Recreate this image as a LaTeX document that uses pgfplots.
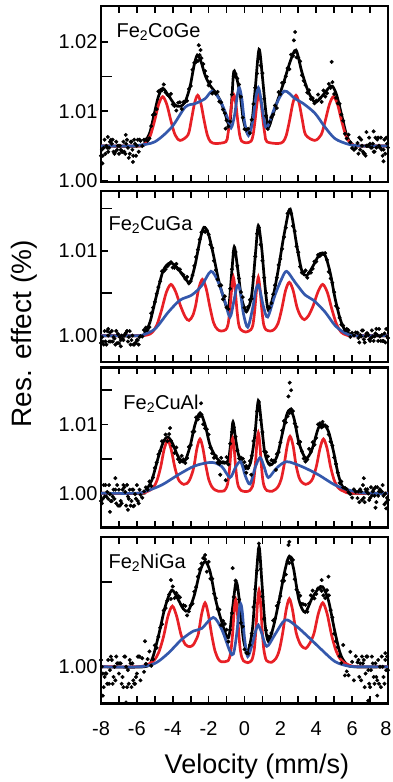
\documentclass[border=0pt]{standalone}
\usepackage{fontspec}
\setmainfont{Liberation Sans}
\usepackage{pgfplots}
\pgfplotsset{compat=1.18}
\definecolor{myred}{RGB}{232,32,38}
\definecolor{myblue}{RGB}{52,88,172}
\begin{document}
\begin{tikzpicture}
\useasboundingbox (0,0) rectangle (392pt,-782pt);
\pgfplotsset{
  panel/.style={
    scale only axis, width=287pt, xmin=-8, xmax=8, anchor=north west,
    xtick={-8,-7,...,8},
    tick align=inside, xtick pos=both, ytick pos=left,
    major tick length=7pt, minor tick length=11pt,
    tick style={line width=1.7pt, black},
    axis line style={line width=2.4pt, black},
    tick label style={font=\fontsize{20}{22}\selectfont},
    xticklabel style={yshift=-15pt},
    xticklabels={},
  },
  dat/.style={only marks, mark=*, mark size=1.8pt, black},
  fitk/.style={black, line width=2.7pt, smooth, tension=0.5, mark=none},
  fitr/.style={myred, line width=2.7pt, smooth, tension=0.5, mark=none},
  fitb/.style={myblue, line width=2.7pt, smooth, tension=0.5, mark=none},
}
% ---------------- Panel 1: Fe2CoGe
\begin{axis}[panel, at={(101pt,-6pt)}, height=175.7pt, ymin=0.99986, ymax=1.02514,
  ytick={1.00,1.01,1.02}, yticklabels={1.00,1.01,1.02}, minor ytick={1.005,1.015}]
\addplot[dat] coordinates {
(-8.00,1.00359) (-7.95,1.00446) (-7.90,1.00359) (-7.85,1.00474) (-7.80,1.00590) (-7.75,1.00388) (-7.70,1.00503) (-7.65,1.00474) (-7.60,1.00417) (-7.55,1.00474) (-7.50,1.00561) (-7.45,1.00590) (-7.40,1.00532) (-7.35,1.00590) (-7.30,1.00417) (-7.25,1.00388) (-7.20,1.00417) (-7.15,1.00561) (-7.10,1.00446) (-7.05,1.00503) (-7.00,1.00388) (-6.95,1.00503) (-6.90,1.00446) (-6.85,1.00417) (-6.80,1.00417) (-6.75,1.00561) (-6.70,1.00417) (-6.65,1.00388) (-6.60,1.00532) (-6.55,1.00590) (-6.50,1.00474) (-6.45,1.00330) (-6.40,1.00388) (-6.35,1.00561) (-6.30,1.00561) (-6.25,1.00446) (-6.20,1.00359) (-6.15,1.00590) (-6.10,1.00532) (-6.05,1.00359) (-6.00,1.00503) (-5.95,1.00590) (-5.90,1.00417) (-5.85,1.00590)
(-7.92,1.0025) (-6.22,1.0027) (-7.62,1.0063) (-6.62,1.0066)
(-5.8,1.00575) (-5.7,1.00499) (-5.6,1.00590) (-5.5,1.00593) (-5.4,1.00577) (-5.3,1.00610) (-5.2,1.00786) (-5.1,1.00946) (-5.0,1.00958) (-4.9,1.01030) (-4.8,1.01285) (-4.7,1.01302) (-4.6,1.01302) (-4.5,1.01385) (-4.4,1.01272) (-4.3,1.01237) (-4.2,1.01218) (-4.1,1.01250) (-4.0,1.01098) (-3.9,1.01075) (-3.8,1.01010) (-3.7,1.01122) (-3.6,1.01128) (-3.5,1.01032) (-3.4,1.01135) (-3.3,1.01137) (-3.2,1.01150) (-3.1,1.01320) (-3.0,1.01363) (-2.9,1.01598) (-2.8,1.01695) (-2.7,1.01708) (-2.6,1.01725) (-2.5,1.01808) (-2.4,1.01765) (-2.3,1.01680) (-2.2,1.01578) (-2.1,1.01495) (-2.0,1.01373) (-1.9,1.01423) (-1.8,1.01255) (-1.7,1.01275) (-1.6,1.01252) (-1.5,1.01278) (-1.4,1.01138) (-1.3,1.01128) (-1.2,1.01025) (-1.1,1.00972) (-1.0,1.00868) (-0.9,1.00782) (-0.8,1.00852) (-0.7,1.01242) (-0.6,1.01495) (-0.5,1.01535) (-0.4,1.01472) (-0.3,1.01385) (-0.2,1.01208) (-0.1,1.00908) (0.0,1.00742) (0.1,1.00732) (0.2,1.00748) (0.3,1.00685) (0.4,1.00878) (0.5,1.01105) (0.6,1.01338) (0.7,1.01542) (0.8,1.01835) (0.9,1.01658) (1.0,1.01548) (1.1,1.01178) (1.2,1.00935) (1.3,1.00745) (1.4,1.00845) (1.5,1.00915) (1.6,1.00952) (1.7,1.01082) (1.8,1.01045) (1.9,1.01275) (2.0,1.01245) (2.1,1.01408) (2.2,1.01417) (2.3,1.01502) (2.4,1.01620) (2.5,1.01605) (2.6,1.01815) (2.7,1.01798) (2.8,1.01853) (2.9,1.01775) (3.0,1.01768) (3.1,1.01718) (3.2,1.01518) (3.3,1.01438) (3.4,1.01375) (3.5,1.01267) (3.6,1.01302) (3.7,1.01178) (3.8,1.01188) (3.9,1.01115) (4.0,1.01153) (4.1,1.01240) (4.2,1.01182) (4.3,1.01135) (4.4,1.01298) (4.5,1.01212) (4.6,1.01258) (4.7,1.01393) (4.8,1.01337) (4.9,1.01418) (5.0,1.01247) (5.1,1.01192) (5.2,1.01112) (5.3,1.01107) (5.4,1.00952) (5.5,1.00863) (5.6,1.00675) (5.7,1.00608) (5.8,1.00663) (5.9,1.00552) (6.0,1.00470) (6.1,1.00445) (6.2,1.00468) (6.3,1.00542)
(-2.55,1.0195) (-2.45,1.0188) (2.82,1.0214) (2.75,1.0202) (4.86,1.0171) (-1.05,1.0075)
(6.35,1.00389) (6.40,1.00620) (6.45,1.00447) (6.50,1.00591) (6.55,1.00504) (6.60,1.00418) (6.65,1.00389) (6.70,1.00389) (6.75,1.00360) (6.80,1.00504) (6.85,1.00504) (6.90,1.00504) (6.95,1.00620) (7.00,1.00533) (7.05,1.00476) (7.10,1.00476) (7.15,1.00533) (7.20,1.00418) (7.25,1.00418) (7.30,1.00620) (7.35,1.00476) (7.40,1.00591) (7.45,1.00620) (7.50,1.00504) (7.55,1.00476) (7.60,1.00620) (7.65,1.00447) (7.70,1.00360) (7.75,1.00447) (7.80,1.00591) (7.85,1.00389) (7.90,1.00620) (7.95,1.00533) (8.00,1.00476)
(7.75,1.0028) (6.8,1.0070) (7.2,1.0071)
};
\addplot[fitk] coordinates {
(-8,1.005) (-5.8,1.005) (-5.55,1.0056) (-5.27,1.0070) (-4.99,1.0101) (-4.80,1.0121) (-4.56,1.0133) (-4.25,1.0123) (-3.87,1.0109) (-3.59,1.0107) (-3.32,1.0113) (-3.04,1.0135) (-2.81,1.0166) (-2.63,1.0181) (-2.42,1.0171) (-2.2,1.0152) (-1.92,1.0137) (-1.64,1.0128) (-1.36,1.0116) (-1.09,1.0097) (-0.84,1.0080) (-0.71,1.0116) (-0.60,1.0157) (-0.43,1.0147) (-0.24,1.0123) (-0.06,1.0087) (0.18,1.0068) (0.40,1.0082) (0.59,1.0130) (0.81,1.0189) (1.0,1.0149) (1.18,1.0101) (1.33,1.0077) (1.55,1.0092) (1.85,1.0116) (2.17,1.0140) (2.54,1.0171) (2.87,1.0188) (3.19,1.0157) (3.56,1.0128) (3.93,1.0113) (4.30,1.0121) (4.68,1.0133) (4.90,1.0136) (5.14,1.0123) (5.42,1.0094) (5.70,1.0065) (5.98,1.0053) (6.35,1.005) (8,1.005)
};
\addplot[fitr] coordinates {
(-8,1.0050) (-6.0,1.0050) (-5.71,1.0051) (-5.48,1.00545) (-5.25,1.0065) (-5.02,1.00855) (-4.79,1.01096) (-4.56,1.0121) (-4.33,1.01096) (-4.10,1.0086) (-3.87,1.0066) (-3.585,1.0058) (-3.15,1.0066) (-2.97,1.00865) (-2.79,1.0111) (-2.61,1.0123) (-2.43,1.0111) (-2.25,1.00865) (-2.07,1.00655) (-1.89,1.0056) (-1.6,1.00535) (-1.04,1.0056) (-0.93,1.0066) (-0.82,1.0087) (-0.71,1.0112) (-0.60,1.0124) (-0.49,1.0112) (-0.38,1.0087) (-0.27,1.0066) (-0.16,1.0057) (0.105,1.00545) (0.37,1.0057) (0.48,1.0066) (0.59,1.0087) (0.70,1.0112) (0.81,1.0124) (0.92,1.0112) (1.03,1.0087) (1.14,1.0066) (1.25,1.0056) (1.85,1.00535) (2.15,1.0056) (2.33,1.00655) (2.51,1.00865) (2.69,1.0111) (2.87,1.0123) (3.05,1.0111) (3.23,1.00865) (3.41,1.0066) (3.915,1.0058) (4.27,1.0066) (4.50,1.0086) (4.73,1.01096) (4.96,1.0121) (5.19,1.01096) (5.42,1.00855) (5.65,1.0065) (5.88,1.00545) (6.11,1.0051) (6.4,1.0050) (8,1.0050)
};
\addplot[fitb] coordinates {
(-8,1.0050) (-6.3,1.0050) (-5.9,1.0051) (-5.0,1.0056) (-4.06,1.0077) (-3.3,1.0106) (-2.75,1.0111) (-2.2,1.0118) (-1.79,1.0129) (-1.37,1.0116) (-1.0,1.0094) (-0.75,1.0076) (-0.55,1.0095) (-0.4,1.0123) (-0.29,1.0134) (-0.15,1.0118) (0.0,1.0085) (0.22,1.0065) (0.45,1.0085) (0.62,1.0118) (0.77,1.0134) (0.9,1.0120) (1.05,1.0094) (1.24,1.0076) (1.70,1.0106) (2.22,1.0129) (2.82,1.0118) (3.28,1.0111) (3.93,1.0097) (4.49,1.0077) (5.05,1.00605) (5.79,1.00525) (6.5,1.0050) (8,1.0050)
};
\node[anchor=west, font=\fontsize{20}{22}\selectfont] at (rel axis cs:0.042,0.852) {Fe\textsubscript{2}CoGe};
\end{axis}
% ---------------- Panel 2: Fe2CuGa
\begin{axis}[panel, at={(101pt,-191pt)}, height=170.7pt, ymin=0.99693, ymax=1.01708,
  ytick={1.00,1.01}, yticklabels={1.00,1.01}, minor ytick={1.005,1.015}]
\addplot[dat] coordinates {
(-8.00,0.99913) (-7.95,0.99984) (-7.90,0.99931) (-7.85,0.99895) (-7.80,1.00055) (-7.75,0.99931) (-7.70,0.99895) (-7.65,1.00055) (-7.60,1.00002) (-7.55,0.99931) (-7.50,1.00037) (-7.45,0.99931) (-7.40,1.00055) (-7.35,0.99931) (-7.30,0.99984) (-7.25,0.99966) (-7.20,0.99895) (-7.15,1.00055) (-7.10,0.99913) (-7.05,1.00020) (-7.00,0.99913) (-6.95,0.99984) (-6.90,0.99948) (-6.85,1.00002) (-6.80,0.99966) (-6.75,0.99948) (-6.70,1.00002) (-6.65,1.00020) (-6.60,1.00037) (-6.55,1.00055) (-6.50,0.99931) (-6.45,0.99984) (-6.40,1.00055) (-6.35,0.99895) (-6.30,0.99948) (-6.25,1.00002) (-6.20,0.99895) (-6.15,0.99895) (-6.10,0.99913) (-6.05,0.99913) (-6.00,0.99948) (-5.95,0.99948) (-5.90,0.99895) (-5.85,0.99984)
(-7.6,1.0008) (-6.9,0.99875)
(-5.8,0.99995) (-5.7,0.99991) (-5.6,1.00067) (-5.5,1.00096) (-5.4,1.00069) (-5.3,1.00102) (-5.2,1.00265) (-5.1,1.00332) (-5.0,1.00399) (-4.9,1.00495) (-4.8,1.00573) (-4.7,1.00642) (-4.6,1.00760) (-4.5,1.00762) (-4.4,1.00785) (-4.3,1.00819) (-4.2,1.00843) (-4.1,1.00868) (-4.0,1.00805) (-3.9,1.00801) (-3.8,1.00848) (-3.7,1.00782) (-3.6,1.00784) (-3.5,1.00736) (-3.4,1.00718) (-3.3,1.00671) (-3.2,1.00694) (-3.1,1.00616) (-3.0,1.00644) (-2.9,1.00715) (-2.8,1.00825) (-2.7,1.00929) (-2.6,1.01015) (-2.5,1.01135) (-2.4,1.01220) (-2.3,1.01235) (-2.2,1.01225) (-2.1,1.01245) (-2.0,1.01195) (-1.9,1.01075) (-1.8,1.01035) (-1.7,1.00885) (-1.6,1.00775) (-1.5,1.00665) (-1.4,1.00590) (-1.3,1.00595) (-1.2,1.00430) (-1.1,1.00465) (-1.0,1.00335) (-0.9,1.00315) (-0.8,1.00555) (-0.7,1.00785) (-0.6,1.00985) (-0.5,1.00989) (-0.4,1.00825) (-0.3,1.00675) (-0.2,1.00515) (-0.1,1.00455) (0.0,1.00330) (0.1,1.00285) (0.2,1.00340) (0.3,1.00425) (0.4,1.00435) (0.5,1.00695) (0.6,1.00935) (0.7,1.01205) (0.8,1.01275) (0.9,1.01075) (1.0,1.00885) (1.1,1.00685) (1.2,1.00504) (1.3,1.00341) (1.4,1.00330) (1.5,1.00385) (1.6,1.00490) (1.7,1.00595) (1.8,1.00685) (1.9,1.00835) (2.0,1.00905) (2.1,1.01025) (2.2,1.01165) (2.3,1.01275) (2.4,1.01445) (2.5,1.01475) (2.6,1.01440) (2.7,1.01295) (2.8,1.01235) (2.9,1.01055) (3.0,1.00985) (3.1,1.00815) (3.2,1.00745) (3.3,1.00745) (3.4,1.00770) (3.5,1.00685) (3.6,1.00745) (3.7,1.00745) (3.8,1.00790) (3.9,1.00875) (4.0,1.00875) (4.1,1.00955) (4.2,1.00940) (4.3,1.00960) (4.4,1.00965) (4.5,1.00975) (4.6,1.00895) (4.7,1.00755) (4.8,1.00675) (4.9,1.00625) (5.0,1.00515) (5.1,1.00352) (5.2,1.00325) (5.3,1.00211) (5.4,1.00130) (5.5,1.00120) (5.6,1.00070) (5.7,1.00080) (5.8,1.00065) (5.9,0.99985) (6.0,1.00035) (6.1,1.00002) (6.2,1.00038) (6.3,1.00035)
(6.35,0.99973) (6.40,0.99920) (6.45,1.00009) (6.50,0.99991) (6.55,1.00062) (6.60,1.00062) (6.65,0.99956) (6.70,0.99920) (6.75,0.99991) (6.80,1.00027) (6.85,1.00027) (6.90,1.00009) (6.95,0.99956) (7.00,0.99938) (7.05,0.99973) (7.10,1.00062) (7.15,0.99991) (7.20,0.99938) (7.25,0.99991) (7.30,1.00027) (7.35,1.00080) (7.40,1.00009) (7.45,0.99938) (7.50,1.00080) (7.55,0.99991) (7.60,0.99938) (7.65,1.00009) (7.70,0.99938) (7.75,0.99938) (7.80,1.00027) (7.85,0.99920) (7.90,1.00080) (7.95,0.99991) (8.00,0.99973)
};
\addplot[fitk] coordinates {
(-8,1.0000) (-5.8,1.0000) (-5.55,1.0004) (-5.27,1.0016) (-4.90,1.0048) (-4.53,1.0077) (-4.15,1.0086) (-3.78,1.0081) (-3.32,1.0068) (-3.04,1.0063) (-2.76,1.0083) (-2.48,1.0113) (-2.26,1.0128) (-2.01,1.0120) (-1.73,1.0095) (-1.46,1.0067) (-1.18,1.0046) (-0.90,1.0032) (-0.71,1.0075) (-0.57,1.0105) (-0.38,1.0079) (-0.16,1.0044) (0.12,1.0029) (0.40,1.0048) (0.62,1.0099) (0.77,1.0130) (0.96,1.0103) (1.14,1.0059) (1.33,1.0030) (1.61,1.0048) (1.89,1.0079) (2.17,1.0115) (2.50,1.0149) (2.67,1.0138) (2.91,1.0107) (3.19,1.0077) (3.47,1.0071) (3.84,1.0083) (4.21,1.0097) (4.49,1.0095) (4.77,1.0075) (5.05,1.0044) (5.33,1.0020) (5.61,1.0006) (5.98,1.0001) (6.3,1.0000) (8,1.0000)
};
\addplot[fitr] coordinates {
(-8,1.0000) (-5.9,1.0000) (-5.4,1.0001) (-5.14,1.0004) (-4.88,1.0013) (-4.62,1.00305) (-4.36,1.0051) (-4.10,1.00606) (-3.84,1.0052) (-3.58,1.0036) (-3.30,1.0022) (-3.09,1.0018) (-2.88,1.0024) (-2.72,1.0036) (-2.56,1.0055) (-2.35,1.00665) (-2.14,1.0056) (-1.93,1.0034) (-1.72,1.0015) (-1.51,1.00075) (-1.30,1.00055) (-1.05,1.0007) (-0.92,1.0013) (-0.82,1.0030) (-0.72,1.0054) (-0.62,1.0069) (-0.52,1.0054) (-0.42,1.0030) (-0.32,1.0013) (-0.2,1.0007) (0.07,1.00043) (0.35,1.0007) (0.47,1.0013) (0.57,1.0030) (0.67,1.0054) (0.77,1.0069) (0.87,1.0054) (0.97,1.0030) (1.07,1.0013) (1.2,1.0007) (1.45,1.00055) (1.66,1.00075) (1.87,1.00145) (2.08,1.0032) (2.29,1.00535) (2.50,1.0063) (2.71,1.00535) (2.92,1.0034) (3.13,1.0023) (3.34,1.0019) (3.58,1.0024) (3.84,1.0036) (4.10,1.0052) (4.36,1.00606) (4.62,1.0051) (4.88,1.00305) (5.14,1.0013) (5.40,1.0004) (5.66,1.0001) (6.0,1.0000) (8,1.0000)
};
\addplot[fitb] coordinates {
(-8,1.0000) (-6.2,1.0000) (-5.73,1.00005) (-4.99,1.0008) (-4.24,1.0028) (-3.59,1.0042) (-2.94,1.0048) (-2.39,1.0059) (-1.87,1.0076) (-1.46,1.0063) (-1.09,1.0040) (-0.81,1.0022) (-0.6,1.0040) (-0.45,1.0056) (-0.34,1.0060) (-0.22,1.0050) (-0.06,1.0026) (0.18,1.0010) (0.45,1.0032) (0.62,1.0053) (0.77,1.0060) (0.9,1.0050) (1.05,1.0035) (1.29,1.0022) (1.70,1.0048) (2.07,1.0067) (2.35,1.0076) (2.82,1.0063) (3.38,1.0048) (3.84,1.0042) (4.49,1.0028) (5.05,1.0012) (5.61,1.0003) (6.16,1.0000) (8,1.0000)
};
\node[anchor=west, font=\fontsize{20}{22}\selectfont] at (rel axis cs:0.014,0.80) {Fe\textsubscript{2}CuGa};
\end{axis}
% ---------------- Panel 3: Fe2CuAl
\begin{axis}[panel, at={(101pt,-367.3pt)}, height=160.2pt, ymin=0.99502, ymax=1.01834,
  ytick={1.00,1.01}, yticklabels={1.00,1.01}, minor ytick={1.005,1.015}]
\addplot[dat] coordinates {
(-8.00,0.99887) (-7.95,0.99853) (-7.90,0.99920) (-7.85,1.00120) (-7.80,0.99953) (-7.75,1.00120) (-7.70,0.99953) (-7.65,1.00020) (-7.60,0.99920) (-7.55,1.00120) (-7.50,0.99987) (-7.45,0.99887) (-7.40,0.99887) (-7.35,0.99953) (-7.30,1.00053) (-7.25,0.99920) (-7.20,1.00053) (-7.15,0.99853) (-7.10,1.00120) (-7.05,0.99820) (-7.00,1.00053) (-6.95,0.99820) (-6.90,0.99887) (-6.85,0.99853) (-6.80,1.00053) (-6.75,1.00120) (-6.70,1.00087) (-6.65,1.00020) (-6.60,0.99820) (-6.55,1.00120) (-6.50,0.99953) (-6.45,0.99920) (-6.40,1.00053) (-6.35,0.99820) (-6.30,0.99887) (-6.25,1.00053) (-6.20,1.00053) (-6.15,0.99820) (-6.10,0.99987) (-6.05,0.99920) (-6.00,1.00120) (-5.95,0.99887) (-5.90,0.99853) (-5.85,1.00053)
(-7.5,0.99730) (-6.5,0.99760) (-6.2,0.99810) (-7.2,1.0022)
(-5.8,0.99977) (-5.7,0.99936) (-5.6,1.00027) (-5.5,1.00086) (-5.4,1.00051) (-5.3,1.00173) (-5.2,1.00107) (-5.1,1.00231) (-5.0,1.00369) (-4.9,1.00446) (-4.8,1.00569) (-4.7,1.00617) (-4.6,1.00757) (-4.5,1.00764) (-4.4,1.00855) (-4.3,1.00760) (-4.2,1.00862) (-4.1,1.00766) (-4.0,1.00695) (-3.9,1.00587) (-3.8,1.00667) (-3.7,1.00497) (-3.6,1.00457) (-3.5,1.00545) (-3.4,1.00493) (-3.3,1.00441) (-3.2,1.00512) (-3.1,1.00676) (-3.0,1.00703) (-2.9,1.00894) (-2.8,1.00900) (-2.7,1.01106) (-2.6,1.01074) (-2.5,1.01119) (-2.4,1.01144) (-2.3,1.01006) (-2.2,1.00946) (-2.1,1.00932) (-2.0,1.00856) (-1.9,1.00667) (-1.8,1.00584) (-1.7,1.00517) (-1.6,1.00544) (-1.5,1.00446) (-1.4,1.00428) (-1.3,1.00517) (-1.2,1.00452) (-1.1,1.00446) (-1.0,1.00526) (-0.9,1.00420) (-0.8,1.00722) (-0.7,1.00892) (-0.6,1.00962) (-0.5,1.00823) (-0.4,1.00622) (-0.3,1.00507) (-0.2,1.00520) (-0.1,1.00503) (0.0,1.00454) (0.1,1.00397) (0.2,1.00364) (0.3,1.00470) (0.4,1.00546) (0.5,1.00760) (0.6,1.00916) (0.7,1.01193) (0.8,1.01329) (0.9,1.01067) (1.0,1.00891) (1.1,1.00613) (1.2,1.00599) (1.3,1.00537) (1.4,1.00430) (1.5,1.00482) (1.6,1.00475) (1.7,1.00459) (1.8,1.00569) (1.9,1.00600) (2.0,1.00741) (2.1,1.00913) (2.2,1.01053) (2.3,1.01030) (2.4,1.01121) (2.5,1.01166) (2.6,1.01224) (2.7,1.01195) (2.8,1.01016) (2.9,1.00965) (3.0,1.00728) (3.1,1.00748) (3.2,1.00612) (3.3,1.00505) (3.4,1.00462) (3.5,1.00493) (3.6,1.00647) (3.7,1.00604) (3.8,1.00743) (3.9,1.00706) (4.0,1.00807) (4.1,1.01003) (4.2,1.01018) (4.3,1.00959) (4.4,1.00977) (4.5,1.00987) (4.6,1.00968) (4.7,1.00856) (4.8,1.00753) (4.9,1.00695) (5.0,1.00521) (5.1,1.00426) (5.2,1.00300) (5.3,1.00150) (5.4,1.00172) (5.5,1.00085) (5.6,1.00077) (5.7,1.00061) (5.8,1.00015) (5.9,0.99986) (6.0,0.99936) (6.1,1.00057) (6.2,1.00023) (6.3,0.99930)
(-2.42,1.0131) (2.52,1.0161) (2.6,1.0150) (2.45,1.0141) (-4.15,1.0095) (4.35,1.0104) (0.38,1.0027) (0.1,1.0030) (-1.35,1.0027) (-1.05,1.0019) (1.75,1.0034)
(6.35,1.00027) (6.40,0.99871) (6.45,1.00058) (6.50,1.00027) (6.55,0.99902) (6.60,1.00120) (6.65,0.99933) (6.70,0.99871) (6.75,1.00058) (6.80,1.00027) (6.85,1.00058) (6.90,0.99996) (6.95,0.99902) (7.00,0.99933) (7.05,1.00089) (7.10,0.99964) (7.15,1.00027) (7.20,1.00058) (7.25,0.99964) (7.30,1.00089) (7.35,0.99871) (7.40,1.00089) (7.45,0.99964) (7.50,1.00027) (7.55,1.00058) (7.60,1.00027) (7.65,1.00027) (7.70,1.00120) (7.75,0.99964) (7.80,0.99840) (7.85,0.99996) (7.90,0.99871) (7.95,0.99933) (8.00,0.99902)
(7.9,0.99780) (6.65,1.0022) (7.3,0.9979)
};
\addplot[fitk] coordinates {
(-8,1.0000) (-5.75,1.0000) (-5.55,1.00025) (-5.17,1.0019) (-4.80,1.0053) (-4.52,1.0075) (-4.28,1.0082) (-4.02,1.0073) (-3.69,1.0053) (-3.35,1.0046) (-3.04,1.0068) (-2.76,1.0100) (-2.48,1.0117) (-2.20,1.0100) (-1.92,1.0070) (-1.55,1.0051) (-1.18,1.0044) (-0.90,1.0049) (-0.75,1.0078) (-0.64,1.0104) (-0.49,1.0078) (-0.30,1.0053) (0.05,1.0036) (0.33,1.0044) (0.57,1.0083) (0.77,1.0135) (0.96,1.0097) (1.14,1.0058) (1.42,1.0041) (1.80,1.0053) (2.11,1.0087) (2.35,1.0114) (2.54,1.0122) (2.76,1.0109) (3.04,1.0073) (3.41,1.0051) (3.75,1.0063) (4.12,1.0095) (4.40,1.0100) (4.68,1.0090) (4.96,1.0061) (5.23,1.0027) (5.51,1.0007) (5.88,1.0001) (6.2,1.0000) (8,1.0000)
};
\addplot[fitr] coordinates {
(-8,1.0000) (-5.84,1.0000) (-5.45,1.00023) (-5.26,1.00046) (-5.06,1.00092) (-4.87,1.00193) (-4.67,1.00385) (-4.48,1.0064) (-4.28,1.0077) (-4.09,1.0064) (-3.89,1.00385) (-3.70,1.0021) (-3.55,1.00155) (-3.38,1.0013) (-3.2,1.00145) (-3.05,1.0020) (-2.92,1.0029) (-2.81,1.0040) (-2.65,1.00656) (-2.48,1.0079) (-2.32,1.00656) (-2.15,1.00395) (-1.99,1.00198) (-1.82,1.00095) (-1.65,1.0005) (-1.46,1.0003) (-1.14,1.00035) (-0.98,1.0010) (-0.90,1.0020) (-0.82,1.0040) (-0.74,1.00664) (-0.66,1.0080) (-0.58,1.00664) (-0.50,1.0040) (-0.42,1.0020) (-0.34,1.0010) (-0.18,1.0004) (0.07,1.00025) (0.29,1.0004) (0.45,1.00105) (0.53,1.0022) (0.61,1.0044) (0.69,1.0073) (0.77,1.0088) (0.85,1.0073) (0.93,1.0044) (1.01,1.0022) (1.09,1.00105) (1.25,1.0004) (1.55,1.0003) (1.72,1.00055) (1.88,1.0010) (2.05,1.00208) (2.21,1.00415) (2.38,1.0069) (2.54,1.0083) (2.71,1.0069) (2.87,1.00415) (3.04,1.0023) (3.2,1.0016) (3.42,1.0013) (3.65,1.0016) (3.81,1.0022) (4.01,1.00395) (4.21,1.00656) (4.40,1.0079) (4.60,1.00656) (4.79,1.00395) (4.99,1.00198) (5.18,1.00095) (5.38,1.00047) (5.57,1.00024) (5.96,1.0000) (8,1.0000)
};
\addplot[fitb] coordinates {
(-8,1.0000) (-6.1,1.0000) (-5.55,1.00025) (-4.62,1.0012) (-3.69,1.0027) (-2.76,1.0040) (-1.83,1.0045) (-1.27,1.0039) (-0.81,1.0023) (-0.5,1.0038) (-0.21,1.0046) (0.05,1.0025) (0.31,1.00135) (0.6,1.0038) (0.87,1.0052) (1.1,1.0038) (1.33,1.0023) (1.8,1.0037) (2.35,1.0046) (3.19,1.0039) (4.12,1.0027) (5.05,1.0012) (5.98,1.00035) (6.9,1.0000) (8,1.0000)
};
\node[anchor=west, font=\fontsize{20}{22}\selectfont] at (rel axis cs:0.066,0.775) {Fe\textsubscript{2}CuAl};
\end{axis}
% ---------------- Panel 4: Fe2NiGa
\begin{axis}[panel, at={(101pt,-536.7pt)}, height=166.6pt, ymin=0.99785, ymax=1.00765,
  ytick={1.00}, yticklabels={1.00}, minor ytick={1.005},
  xticklabels={-8,,-6,,-4,,-2,,0,,2,,4,,6,,{\kern-4pt 8}}]
\addplot[dat] coordinates {
(-8.00,1.00040) (-7.95,1.00000) (-7.90,0.99960) (-7.85,0.99880) (-7.80,0.99940) (-7.75,0.99960) (-7.70,0.99960) (-7.65,0.99900) (-7.60,1.00040) (-7.55,0.99900) (-7.50,0.99980) (-7.45,1.00060) (-7.40,1.00040) (-7.35,0.99900) (-7.30,0.99940) (-7.25,1.00000) (-7.20,0.99920) (-7.15,1.00060) (-7.10,1.00020) (-7.05,1.00020) (-7.00,0.99960) (-6.95,1.00020) (-6.90,1.00020) (-6.85,0.99900) (-6.80,0.99940) (-6.75,0.99880) (-6.70,1.00060) (-6.65,1.00060) (-6.60,1.00000) (-6.55,0.99880) (-6.50,0.99980) (-6.45,0.99900) (-6.40,1.00040) (-6.35,1.00020) (-6.30,0.99880) (-6.25,1.00020) (-6.20,0.99920) (-6.15,0.99900) (-6.10,0.99900) (-6.05,0.99940) (-6.00,0.99960) (-5.95,1.00060) (-5.90,1.00060) (-5.85,1.00060)
(-6.6,0.99790) (-7.9,0.99830) (-5.55,1.0015)
(-5.8,0.99920) (-5.7,1.00050) (-5.6,0.99970) (-5.5,1.00017) (-5.4,1.00045) (-5.3,1.00090) (-5.2,1.00006) (-5.1,1.00044) (-5.0,1.00126) (-4.9,1.00111) (-4.8,1.00176) (-4.7,1.00230) (-4.6,1.00250) (-4.5,1.00331) (-4.4,1.00345) (-4.3,1.00389) (-4.2,1.00425) (-4.1,1.00399) (-4.0,1.00472) (-3.9,1.00404) (-3.8,1.00434) (-3.7,1.00418) (-3.6,1.00408) (-3.5,1.00361) (-3.4,1.00362) (-3.3,1.00358) (-3.2,1.00302) (-3.1,1.00325) (-3.0,1.00361) (-2.9,1.00371) (-2.8,1.00442) (-2.7,1.00468) (-2.6,1.00530) (-2.5,1.00573) (-2.4,1.00608) (-2.3,1.00639) (-2.2,1.00633) (-2.1,1.00559) (-2.0,1.00617) (-1.9,1.00518) (-1.8,1.00518) (-1.7,1.00430) (-1.6,1.00403) (-1.5,1.00339) (-1.4,1.00336) (-1.3,1.00245) (-1.2,1.00269) (-1.1,1.00252) (-1.0,1.00218) (-0.9,1.00148) (-0.8,1.00217) (-0.7,1.00316) (-0.6,1.00410) (-0.5,1.00507) (-0.4,1.00456) (-0.3,1.00396) (-0.2,1.00258) (-0.1,1.00236) (0.0,1.00102) (0.1,1.00082) (0.2,1.00078) (0.3,1.00128) (0.4,1.00196) (0.5,1.00351) (0.6,1.00457) (0.7,1.00566) (0.8,1.00691) (0.9,1.00575) (1.0,1.00413) (1.1,1.00281) (1.2,1.00215) (1.3,1.00179) (1.4,1.00175) (1.5,1.00198) (1.6,1.00272) (1.7,1.00283) (1.8,1.00358) (1.9,1.00379) (2.0,1.00416) (2.1,1.00505) (2.2,1.00506) (2.3,1.00543) (2.4,1.00621) (2.5,1.00610) (2.6,1.00642) (2.7,1.00629) (2.8,1.00515) (2.9,1.00454) (3.0,1.00437) (3.1,1.00418) (3.2,1.00370) (3.3,1.00367) (3.4,1.00364) (3.5,1.00324) (3.6,1.00372) (3.7,1.00420) (3.8,1.00448) (3.9,1.00402) (4.0,1.00428) (4.1,1.00461) (4.2,1.00459) (4.3,1.00446) (4.4,1.00420) (4.5,1.00404) (4.6,1.00450) (4.7,1.00420) (4.8,1.00333) (4.9,1.00290) (5.0,1.00194) (5.1,1.00150) (5.2,1.00115) (5.3,1.00062) (5.4,1.00022) (5.5,1.00128) (5.6,0.99949) (5.7,0.99973) (5.8,0.99950) (5.9,1.00088) (6.0,1.00029) (6.1,0.99920) (6.2,1.00062) (6.3,1.00026)
(2.5,1.00735) (2.45,1.00716) (-2.2,1.00657) (-2.28,1.00640) (0.8,1.00725) (-4.1,1.0051) (4.3,1.0051) (0.15,1.0008) (1.33,1.0017) (-0.66,1.0058) (4.68,1.0053)
(6.35,1.00040) (6.40,0.99940) (6.45,1.00020) (6.50,0.99920) (6.55,1.00060) (6.60,1.00020) (6.65,1.00040) (6.70,0.99880) (6.75,0.99960) (6.80,1.00060) (6.85,1.00060) (6.90,0.99980) (6.95,0.99900) (7.00,0.99880) (7.05,0.99980) (7.10,1.00060) (7.15,1.00020) (7.20,0.99940) (7.25,0.99900) (7.30,1.00020) (7.35,0.99940) (7.40,0.99920) (7.45,1.00040) (7.50,0.99900) (7.55,1.00000) (7.60,0.99880) (7.65,1.00060) (7.70,1.00000) (7.75,0.99940) (7.80,0.99900) (7.85,1.00040) (7.90,0.99980) (7.95,1.00060) (8.00,0.99980)
(6.9,0.99800) (7.4,0.99830) (7.85,1.00080)
};
\addplot[fitk] coordinates {
(-8,1.0000) (-5.6,1.0000) (-5.17,1.0004) (-4.80,1.0018) (-4.43,1.0035) (-4.06,1.0045) (-3.72,1.0040) (-3.41,1.0034) (-3.13,1.0033) (-2.80,1.0042) (-2.48,1.0056) (-2.20,1.0062) (-1.92,1.0056) (-1.60,1.0039) (-1.27,1.00265) (-0.90,1.0017) (-0.66,1.0035) (-0.47,1.0050) (-0.31,1.0041) (-0.06,1.0016) (0.18,1.0009) (0.44,1.0022) (0.64,1.0051) (0.81,1.00706) (0.96,1.0051) (1.14,1.00255) (1.33,1.0015) (1.61,1.00235) (1.93,1.0039) (2.26,1.0057) (2.50,1.0065) (2.73,1.0058) (3.04,1.0039) (3.38,1.0032) (3.75,1.0040) (4.12,1.0046) (4.36,1.0047) (4.68,1.0039) (5.01,1.0022) (5.33,1.0008) (5.65,1.0002) (6.07,1.0000) (8,1.0000)
};
\addplot[fitr] coordinates {
(-8,1.0000) (-5.98,1.0000) (-5.49,1.0001) (-5.25,1.00021) (-5.0,1.00043) (-4.76,1.0009) (-4.51,1.00179) (-4.27,1.00296) (-4.02,1.00357) (-3.78,1.00296) (-3.53,1.00185) (-3.29,1.0013) (-3.04,1.00118) (-2.85,1.0013) (-2.72,1.00155) (-2.57,1.00195) (-2.39,1.0031) (-2.20,1.00376) (-2.02,1.0031) (-1.83,1.00188) (-1.65,1.00095) (-1.46,1.00045) (-1.30,1.0003) (-1.08,1.0003) (-0.92,1.00035) (-0.83,1.00055) (-0.75,1.0010) (-0.66,1.00198) (-0.575,1.0033) (-0.49,1.00396) (-0.405,1.0033) (-0.32,1.00198) (-0.235,1.0010) (-0.15,1.00055) (-0.06,1.00035) (0.18,1.00024) (0.38,1.00035) (0.47,1.0006) (0.555,1.00112) (0.64,1.00225) (0.725,1.00374) (0.81,1.0045) (0.895,1.00374) (0.98,1.00225) (1.065,1.00112) (1.15,1.0006) (1.24,1.00035) (1.50,1.00026) (1.76,1.0005) (1.945,1.0010) (2.13,1.0020) (2.315,1.0033) (2.50,1.0040) (2.685,1.0033) (2.87,1.00205) (3.055,1.00145) (3.2,1.0012) (3.41,1.00108) (3.62,1.00135) (3.87,1.00195) (4.115,1.00312) (4.36,1.00376) (4.605,1.00312) (4.85,1.00188) (5.10,1.00095) (5.34,1.00045) (5.59,1.00022) (5.83,1.0001) (6.3,1.0000) (8,1.0000)
};
\addplot[fitb] coordinates {
(-8,1.0000) (-5.9,1.0000) (-4.99,1.0002) (-4.25,1.0008) (-3.51,1.0016) (-2.85,1.0021) (-2.39,1.00225) (-1.74,1.0029) (-1.27,1.0022) (-0.81,1.0009) (-0.62,1.00075) (-0.45,1.0018) (-0.30,1.0033) (-0.21,1.0037) (-0.12,1.0032) (0.0,1.0017) (0.18,1.0006) (0.45,1.0014) (0.65,1.0022) (0.77,1.00245) (0.92,1.0021) (1.24,1.0012) (1.70,1.0019) (2.26,1.00275) (2.82,1.00245) (3.56,1.00175) (4.30,1.0010) (5.05,1.0003) (5.79,1.00004) (6.5,1.0000) (8,1.0000)
};
\node[anchor=west, font=\fontsize{20}{22}\selectfont] at (rel axis cs:0.014,0.845) {Fe\textsubscript{2}NiGa};
\end{axis}
\node[rotate=90, font=\fontsize{28}{30}\selectfont] at (24pt,-334pt) {Res. effect (\%)};
\node[anchor=base, font=\fontsize{27}{30}\selectfont] at (257pt,-773pt) {Velocity (mm/s)};
\end{tikzpicture}
\end{document}
